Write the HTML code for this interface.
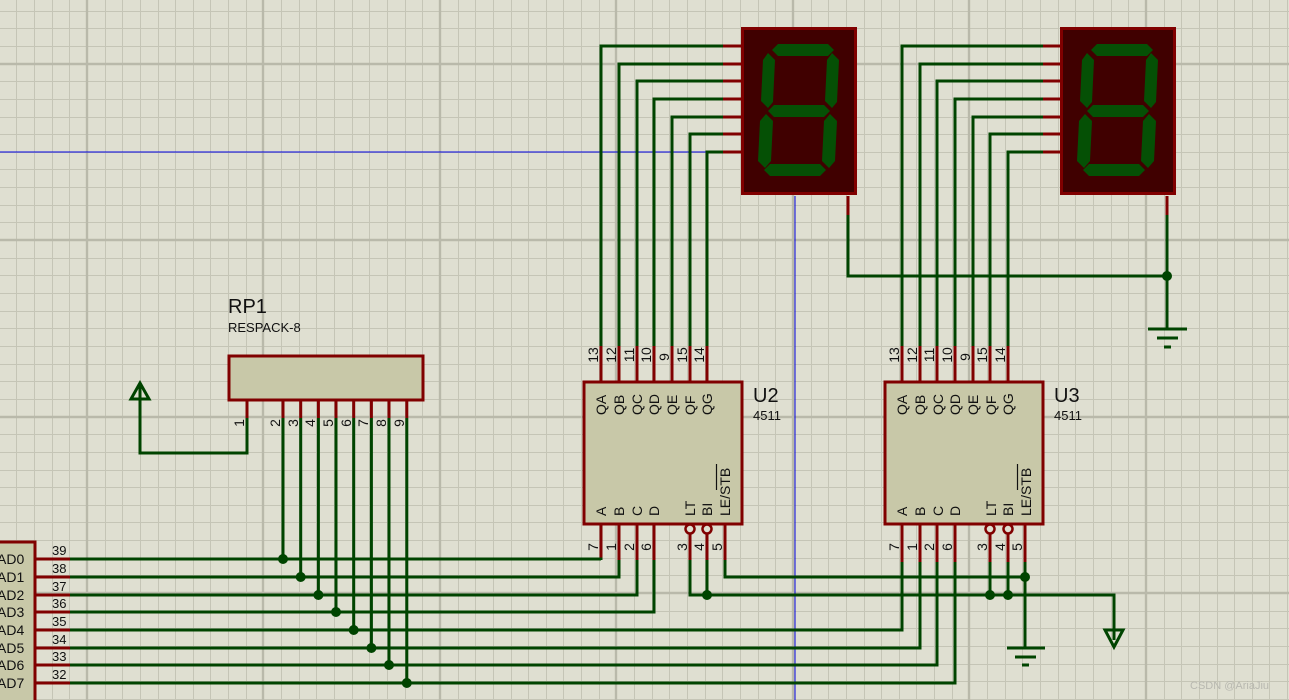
<!DOCTYPE html>
<html><head><meta charset="utf-8"><style>
html,body{margin:0;padding:0;overflow:hidden;background:#dfdfd1}
svg{display:block}
text{font-family:"Liberation Sans",Arial,sans-serif;fill:#111}
</style></head><body>
<svg width="1289" height="700" viewBox="0 0 1289 700" xmlns="http://www.w3.org/2000/svg">
<defs>
<g id="disp">
<rect x="1.5" y="1.5" width="113" height="165" fill="#400000" stroke="#800000" stroke-width="3"/>
<g fill="#055005">
<polygon points="31,23 37,17 87,17 93,23 87,29 37,29"/>
<polygon points="27,84 33,78 83,78 89,84 83,90 33,90"/>
<polygon points="23,143 29,137 79,137 85,143 79,149 29,149"/>
<polygon points="27,26 34,33 32,75 27,81 20,74 22,33"/>
<polygon points="91,26 98,33 96,75 91,81 84,74 86,33"/>
<polygon points="25,87 32,94 30,134 24,141 17,134 19,94"/>
<polygon points="89,87 96,94 94,134 88,141 81,134 83,94"/>
</g>
</g>
</defs>
<rect width="1289" height="700" fill="#dfdfd1"/>
<path fill="none" stroke="#c5c5b6" stroke-width="1" d="M16.5 0V700M34.5 0V700M52.5 0V700M69.5 0V700M105.5 0V700M122.5 0V700M140.5 0V700M158.5 0V700M175.5 0V700M193.5 0V700M210.5 0V700M228.5 0V700M246.5 0V700M281.5 0V700M299.5 0V700M316.5 0V700M334.5 0V700M352.5 0V700M369.5 0V700M387.5 0V700M405.5 0V700M422.5 0V700M458.5 0V700M475.5 0V700M493.5 0V700M511.5 0V700M528.5 0V700M546.5 0V700M563.5 0V700M581.5 0V700M599.5 0V700M634.5 0V700M652.5 0V700M669.5 0V700M687.5 0V700M705.5 0V700M722.5 0V700M740.5 0V700M758.5 0V700M775.5 0V700M811.5 0V700M828.5 0V700M846.5 0V700M864.5 0V700M881.5 0V700M899.5 0V700M916.5 0V700M934.5 0V700M952.5 0V700M987.5 0V700M1005.5 0V700M1022.5 0V700M1040.5 0V700M1058.5 0V700M1075.5 0V700M1093.5 0V700M1111.5 0V700M1128.5 0V700M1164.5 0V700M1181.5 0V700M1199.5 0V700M1217.5 0V700M1234.5 0V700M1252.5 0V700M1269.5 0V700M1287.5 0V700
M0 11.5H1289M0 28.5H1289M0 46.5H1289M0 81.5H1289M0 99.5H1289M0 117.5H1289M0 134.5H1289M0 152.5H1289M0 169.5H1289M0 187.5H1289M0 205.5H1289M0 222.5H1289M0 258.5H1289M0 275.5H1289M0 293.5H1289M0 311.5H1289M0 328.5H1289M0 346.5H1289M0 364.5H1289M0 381.5H1289M0 399.5H1289M0 434.5H1289M0 452.5H1289M0 470.5H1289M0 487.5H1289M0 505.5H1289M0 522.5H1289M0 540.5H1289M0 558.5H1289M0 575.5H1289M0 611.5H1289M0 628.5H1289M0 646.5H1289M0 664.5H1289M0 681.5H1289M0 699.5H1289"/>
<path fill="none" stroke="#b9b9aa" stroke-width="2.4" d="M87 0V700M263 0V700M440 0V700M616 0V700M793 0V700M969 0V700M1146 0V700M0 64H1289M0 240H1289M0 417H1289M0 593H1289"/>

<line x1="0" y1="152" x2="707" y2="152" stroke="#0000e0" stroke-width="1"/>
<line x1="795" y1="196" x2="795" y2="700" stroke="#0000e0" stroke-width="1"/>

<use href="#disp" x="741" y="27"/>
<use href="#disp" x="1060" y="27"/>

<g stroke="#800000" stroke-width="3" fill="none">
<path d="M723 46H742M723 64H742M723 81H742M723 99H742M723 117H742M723 134H742M723 152H742"/>
<path d="M1043 46H1061M1043 64H1061M1043 81H1061M1043 99H1061M1043 117H1061M1043 134H1061M1043 152H1061"/>
<path d="M848 196V215M1167 196V215"/>
<path d="M601 346V382M619 346V382M637 346V382M654 346V382M672 346V382M690 346V382M707 346V382"/>
<path d="M902 346V382M920 346V382M937 346V382M955 346V382M973 346V382M990 346V382M1008 346V382"/>
<path d="M601 524V560M619 524V560M637 524V560M654 524V560M690 533V560M707 533V560M725 524V560"/>
<path d="M902 524V562M920 524V562M937 524V562M955 524V562M990 533V562M1008 533V562M1025 524V562"/>
<path d="M247 400V418M283 400V418M300.7 400V418M318.4 400V418M336 400V418M353.7 400V418M371.4 400V418M389 400V418M406.8 400V418"/>
<path d="M35 559H70M35 577H70M35 595H70M35 612H70M35 630H70M35 648H70M35 665H70M35 683H70"/>
</g>
<g stroke="#800000" stroke-width="2.5" fill="#dfdfd1">
<circle cx="690" cy="529" r="4.5"/><circle cx="707" cy="529" r="4.5"/>
<circle cx="990" cy="529" r="4.5"/><circle cx="1008" cy="529" r="4.5"/>
</g>

<rect x="584" y="382" width="158" height="142" fill="#c8c8a8" stroke="#800000" stroke-width="3"/>
<rect x="885" y="382" width="158" height="142" fill="#c8c8a8" stroke="#800000" stroke-width="3"/>
<rect x="229" y="356" width="194" height="44" fill="#c8c8a8" stroke="#800000" stroke-width="3"/>
<rect x="-5" y="542" width="40" height="170" fill="#c8c8a8" stroke="#800000" stroke-width="3"/>

<g stroke="#004400" stroke-width="3" fill="none">
<path d="M601 346V46H723M619 346V64H723M637 346V81H723M654 346V99H723M672 346V117H723M690 346V134H723M707 346V152H723"/>
<path d="M902 346V46H1043M920 346V64H1043M937 346V81H1043M955 346V99H1043M973 346V117H1043M990 346V134H1043M1008 346V152H1043"/>
<path d="M848 215V276H1167M1167 215V328"/>
<path d="M247 418V453H140V384"/>
<path d="M283 418V559M300.7 418V577M318.4 418V595M336 418V612M353.7 418V630M371.4 418V648M389 418V665M406.8 418V683"/>
<path d="M70 559H601V560M70 577H619V560M70 595H637V560M70 612H654V560"/>
<path d="M70 630H902V562M70 648H920V562M70 665H937V562M70 683H955V562"/>
<path d="M690 560V595H1114V640M707 560V595M990 562V595M1008 562V595"/>
<path d="M725 560V577H1025M1025 562V648"/>
</g>
<g fill="#004400">
<circle cx="283" cy="559" r="5"/><circle cx="300.7" cy="577" r="5"/><circle cx="318.4" cy="595" r="5"/><circle cx="336" cy="612" r="5"/>
<circle cx="353.7" cy="630" r="5"/><circle cx="371.4" cy="648" r="5"/><circle cx="389" cy="665" r="5"/><circle cx="406.8" cy="683" r="5"/>
<circle cx="707" cy="595" r="5"/><circle cx="990" cy="595" r="5"/><circle cx="1008" cy="595" r="5"/><circle cx="1025" cy="577" r="5"/>
<circle cx="1167" cy="276" r="5"/>
</g>
<g stroke="#004400" stroke-width="3" fill="none">
<polygon points="131,399 149,399 140,383"/>
<polygon points="1105,630 1123,630 1114,647"/>
<path d="M1007 648H1045M1015 657H1036M1022 665H1029"/>
<path d="M1148 329H1187M1157 338H1178M1164 347H1171"/>
</g>

<text x="753" y="402" font-size="20">U2</text>
<text x="753" y="420" font-size="13">4511</text>
<text x="1054" y="402" font-size="20">U3</text>
<text x="1054" y="420" font-size="13">4511</text>
<text x="228" y="313" font-size="20">RP1</text>
<text x="228" y="332" font-size="13">RESPACK-8</text>

<g font-size="14">
<text x="-3" y="564">AD0</text><text x="-3" y="582">AD1</text><text x="-3" y="600">AD2</text><text x="-3" y="617">AD3</text>
<text x="-3" y="635">AD4</text><text x="-3" y="653">AD5</text><text x="-3" y="670">AD6</text><text x="-3" y="688">AD7</text>
</g>
<g font-size="13">
<text x="52" y="555">39</text><text x="52" y="573">38</text><text x="52" y="591">37</text><text x="52" y="608">36</text>
<text x="52" y="626">35</text><text x="52" y="644">34</text><text x="52" y="661">33</text><text x="52" y="679">32</text>
</g>

<g font-size="14" text-anchor="middle">
<text transform="translate(598,355) rotate(-90)">13</text>
<text transform="translate(616,355) rotate(-90)">12</text>
<text transform="translate(634,355) rotate(-90)">11</text>
<text transform="translate(651,355) rotate(-90)">10</text>
<text transform="translate(669,357) rotate(-90)">9</text>
<text transform="translate(687,355) rotate(-90)">15</text>
<text transform="translate(704,355) rotate(-90)">14</text>
<text transform="translate(899,355) rotate(-90)">13</text>
<text transform="translate(917,355) rotate(-90)">12</text>
<text transform="translate(934,355) rotate(-90)">11</text>
<text transform="translate(952,355) rotate(-90)">10</text>
<text transform="translate(970,357) rotate(-90)">9</text>
<text transform="translate(987,355) rotate(-90)">15</text>
<text transform="translate(1005,355) rotate(-90)">14</text>

<text transform="translate(598,547) rotate(-90)">7</text>
<text transform="translate(616,547) rotate(-90)">1</text>
<text transform="translate(634,547) rotate(-90)">2</text>
<text transform="translate(651,547) rotate(-90)">6</text>
<text transform="translate(687,547) rotate(-90)">3</text>
<text transform="translate(704,547) rotate(-90)">4</text>
<text transform="translate(722,547) rotate(-90)">5</text>
<text transform="translate(899,547) rotate(-90)">7</text>
<text transform="translate(917,547) rotate(-90)">1</text>
<text transform="translate(934,547) rotate(-90)">2</text>
<text transform="translate(952,547) rotate(-90)">6</text>
<text transform="translate(987,547) rotate(-90)">3</text>
<text transform="translate(1005,547) rotate(-90)">4</text>
<text transform="translate(1022,547) rotate(-90)">5</text>

<text transform="translate(244,423) rotate(-90)">1</text>
<text transform="translate(280,423) rotate(-90)">2</text>
<text transform="translate(298,423) rotate(-90)">3</text>
<text transform="translate(315,423) rotate(-90)">4</text>
<text transform="translate(333,423) rotate(-90)">5</text>
<text transform="translate(351,423) rotate(-90)">6</text>
<text transform="translate(368,423) rotate(-90)">7</text>
<text transform="translate(386,423) rotate(-90)">8</text>
<text transform="translate(404,423) rotate(-90)">9</text>
</g>

<g font-size="14" text-anchor="start">
<g id="u2names">
<text transform="translate(606,415) rotate(-90)">QA</text>
<text transform="translate(624,415) rotate(-90)">QB</text>
<text transform="translate(642,415) rotate(-90)">QC</text>
<text transform="translate(659,415) rotate(-90)">QD</text>
<text transform="translate(677,415) rotate(-90)">QE</text>
<text transform="translate(695,415) rotate(-90)">QF</text>
<text transform="translate(712,415) rotate(-90)">QG</text>
<text transform="translate(606,516) rotate(-90)">A</text>
<text transform="translate(624,516) rotate(-90)">B</text>
<text transform="translate(642,516) rotate(-90)">C</text>
<text transform="translate(659,516) rotate(-90)">D</text>
<text transform="translate(695,516) rotate(-90)">LT</text>
<text transform="translate(712,516) rotate(-90)">BI</text>
<text transform="translate(730,516) rotate(-90)">LE/STB</text>
</g>
<use href="#u2names" x="301"/>
</g>
<g stroke="#111" stroke-width="1.2">
<line x1="716.5" y1="464" x2="716.5" y2="490"/>
<line x1="1017.5" y1="464" x2="1017.5" y2="490"/>
</g>

<text x="1190" y="689" font-size="11" style="fill:#b8b8b0">CSDN @AriaJiu</text>
</svg>
</body></html>
